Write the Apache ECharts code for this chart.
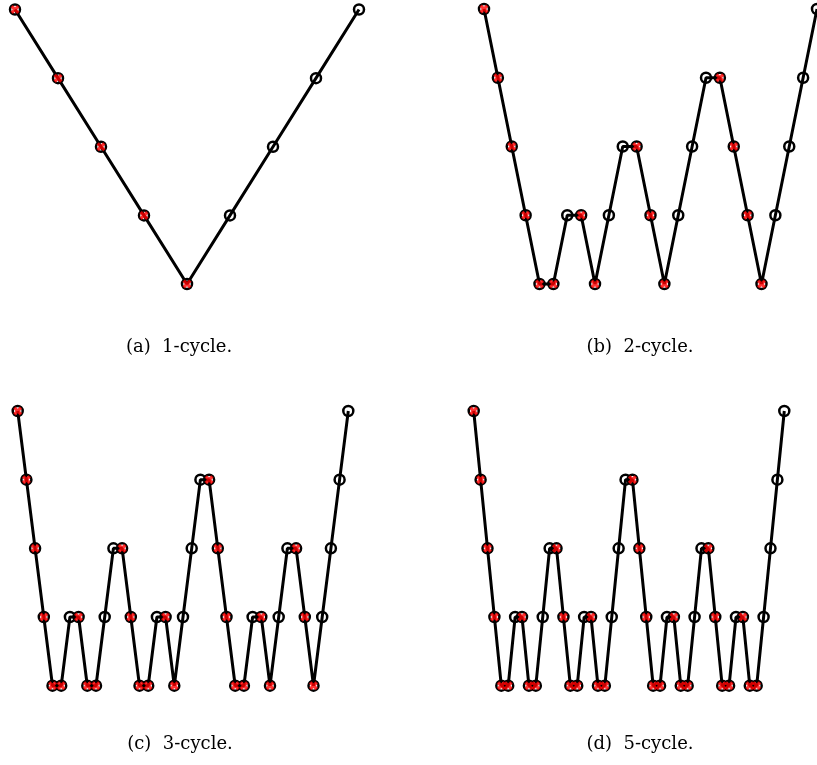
<!DOCTYPE html>
<html>
<head>
<meta charset="utf-8">
<script src="https://cdn.jsdelivr.net/npm/echarts@6/dist/echarts.min.js"></script>
<style>
html,body{margin:0;padding:0;background:#fff;}
#chart{width:817px;height:765px;}
</style>
</head>
<body>
<div id="chart"></div>
<script>
// Grid level visited at each step (0 = finest, 4 = coarsest)
const levelsA = [0,1,2,3,4,3,2,1,0];
const levelsB = [0,1,2,3,4,4,3,3,4,3,2,2,3,4,3,2,1,1,2,3,4,3,2,1,0];
const levelsC = [0,1,2,3,4,4,3,3,4,4,3,2,2,3,4,4,3,3,4,3,2,1,1,2,3,4,4,3,3,4,3,2,2,3,4,3,2,1,0];
const levelsD = [0,1,2,3,4,4,3,3,4,4,3,2,2,3,4,4,3,3,4,4,3,2,1,1,2,3,4,4,3,3,4,4,3,2,2,3,4,4,3,3,4,4,3,2,1,0];
const captions = ['(a)  1-cycle.', '(b)  2-cycle.', '(c)  3-cycle.', '(d)  5-cycle.'];
const coarsest = 4;

const panels = [levelsA, levelsB, levelsC, levelsD];
const grids = [
  {left: 15, top: 9.5, width: 344, height: 274.5},
  {left: 484, top: 9, width: 333.6, height: 275},
  {left: 17.7, top: 411, width: 330.6, height: 274.7},
  {left: 473.7, top: 411, width: 310.6, height: 274.7}
];
const captionPos = [[179, 347], [640, 347], [180, 744], [640, 744]];

const xPath = 'path://M0,2.6 L2.6,0 L5,2.4 L7.4,0 L10,2.6 L7.6,5 L10,7.4 L7.4,10 L5,7.6 L2.6,10 L0,7.4 L2.4,5 Z';

const xAxes = [], yAxes = [], series = [], graphics = [];
panels.forEach((lv, p) => {
  xAxes.push({gridIndex: p, type: 'value', min: 0, max: lv.length - 1, show: false});
  yAxes.push({gridIndex: p, type: 'value', min: 0, max: coarsest, inverse: true, show: false});
  const pts = lv.map((l, i) => [i, l]);
  // smoothing before going down, and coarse solves
  const redPts = pts.filter((d, i) => d[1] === coarsest || (i < lv.length - 1 && lv[i + 1] > d[1]));
  series.push({
    type: 'line', xAxisIndex: p, yAxisIndex: p, data: pts, clip: false,
    symbol: 'circle', symbolSize: 10, showAllSymbol: true,
    lineStyle: {color: '#000', width: 3},
    itemStyle: {color: 'rgba(0,0,0,0)', borderColor: '#000', borderWidth: 2.5},
    emphasis: {disabled: true}, silent: true, animation: false, z: 2
  });
  series.push({
    type: 'scatter', xAxisIndex: p, yAxisIndex: p, data: redPts, clip: false,
    symbol: xPath, symbolSize: 9,
    itemStyle: {color: '#ff0000'},
    emphasis: {disabled: true}, silent: true, animation: false, z: 3
  });
  graphics.push({
    type: 'text', x: captionPos[p][0], y: captionPos[p][1],
    style: {text: captions[p], fill: '#000', font: '18px "DejaVu Serif"', textAlign: 'center', textVerticalAlign: 'middle'}
  });
});

const chart = echarts.init(document.getElementById('chart'), null, {renderer: 'canvas'});
chart.setOption({
  backgroundColor: '#fff',
  animation: false,
  grid: grids,
  xAxis: xAxes,
  yAxis: yAxes,
  series: series,
  graphic: graphics
});
</script>
</body>
</html>
